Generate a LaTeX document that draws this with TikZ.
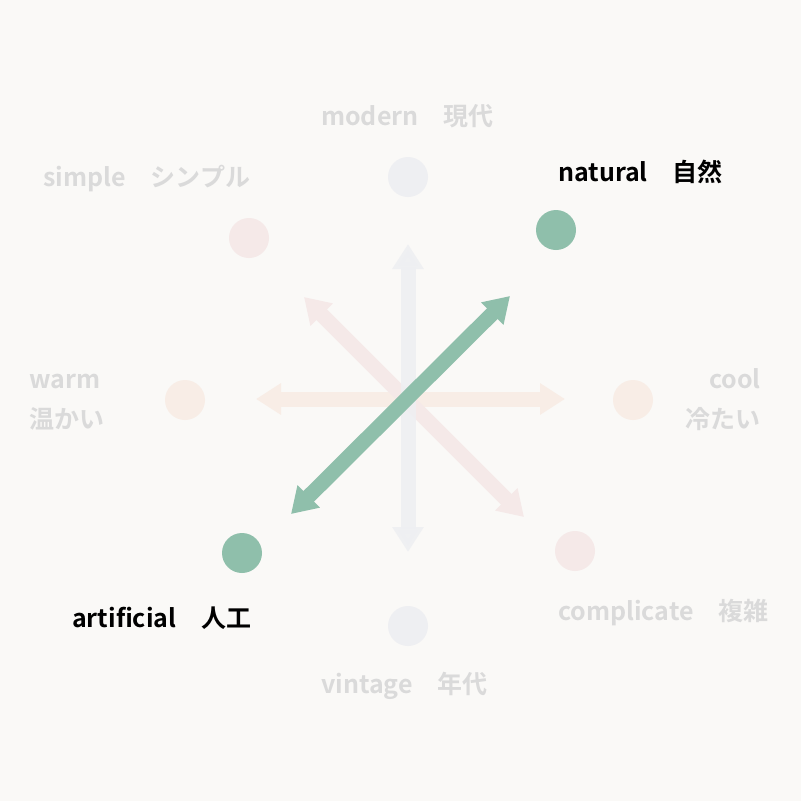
\documentclass[tikz,border=0pt]{standalone}
\usepackage{fontspec}
\setmainfont{Noto Sans CJK JP}[BoldFont={Noto Sans CJK JP Bold}]
\usetikzlibrary{arrows.meta}
\definecolor{bg}{HTML}{FAF9F7}
\definecolor{greenc}{HTML}{8FBFAB}
\definecolor{bluec}{HTML}{EEEFF2}
\definecolor{pinkc}{HTML}{F5E9E8}
\definecolor{peachc}{HTML}{F8EDE6}
\definecolor{greytext}{HTML}{DADADA}
\tikzset{
  dot/.style={circle, minimum size=40pt, inner sep=0pt, fill=#1},
  lbl/.style={inner sep=0pt, font=\fontsize{25pt}{29pt}\selectfont\bfseries, text=greytext, anchor=base west},
  lblon/.style={lbl, text=black},
  dbl/.style={line width=15pt, draw=#1, {Triangle[width=30pt,length=25pt]}-{Triangle[width=30pt,length=25pt]}},
}
\begin{document}
\begin{tikzpicture}[x=1pt,y=-1pt]
\fill[bg] (0,0) rectangle (801,801);
\useasboundingbox (0,0) rectangle (801,801);
% circles
\node[dot=bluec] (cmodern) at (408,177) {};
\node[dot=bluec] (cvintage) at (408,626) {};
\node[dot=pinkc] (csimple) at (249,238) {};
\node[dot=pinkc] (ccomplicate) at (575,551) {};
\node[dot=peachc] (cwarm) at (185,400) {};
\node[dot=peachc] (ccool) at (633,400) {};
\node[dot=greenc] (cnatural) at (556,230) {};
\node[dot=greenc] (cartificial) at (242,553) {};
% arrow end points
\coordinate (vt) at (408,244);
\coordinate (vb) at (408,552);
\coordinate (hl) at (256,399);
\coordinate (hr) at (565,399);
\coordinate (pt) at (304,297);
\coordinate (pb) at (524,517);
\coordinate (gt) at (510,296);
\coordinate (gb) at (291,514);
\draw[dbl=peachc] (hl) -- (hr);
\draw[dbl=pinkc] (pt) -- (pb);
\draw[dbl=bluec, opacity=0.85] (vt) -- (vb);
\draw[dbl=greenc] (gt) -- (gb);
% labels
\node[lbl] (lmodern) at (321,125) {modern　現代};
\node[lbl] (lsimple) at (43,186) {simple　シンプル};
\node[lblon] (lnatural) at (558,181) {natural　自然};
\node[lbl] (lwarm) at (29,388) {warm};
\node[lbl] (lwarmj) at (29,428) {温かい};
\node[lbl, anchor=base east] (lcool) at (761,388) {cool};
\node[lbl, anchor=base east] (lcoolj) at (761,428) {冷たい};
\node[lbl] (lcomplicate) at (558,620) {complicate　複雑};
\node[lblon] (lartificial) at (72,627) {artificial　人工};
\node[lbl] (lvintage) at (321,693) {vintage　年代};
\end{tikzpicture}
\end{document}
